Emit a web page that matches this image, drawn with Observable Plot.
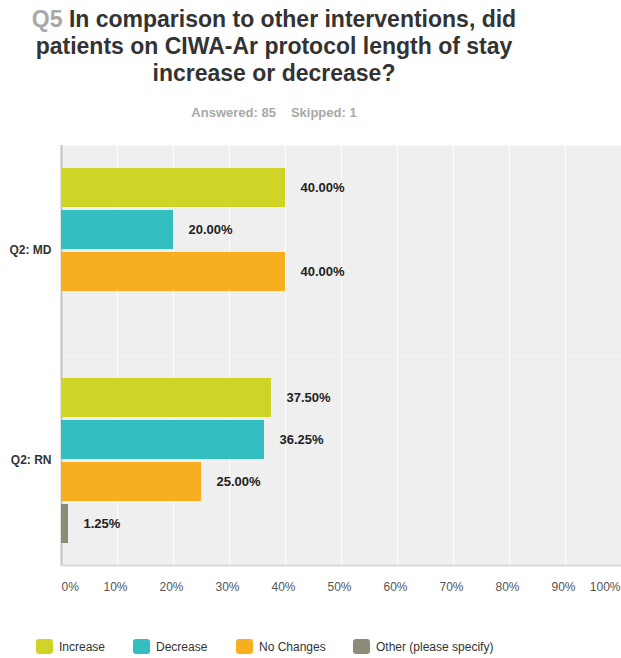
<!DOCTYPE html>
<html><head><meta charset="utf-8">
<script src="https://cdn.jsdelivr.net/npm/d3@7"></script>
<script src="https://cdn.jsdelivr.net/npm/@observablehq/plot@0.6"></script>
<style>
body{margin:0;background:#fff;font-family:"Liberation Sans",Arial,sans-serif;}
#wrap{position:relative;width:621px;height:658px;overflow:hidden;}
#title{position:absolute;left:0;top:6px;width:548px;text-align:center;font-weight:bold;font-size:23px;line-height:27px;color:#333;white-space:nowrap;}
#title .q{color:#a8a8a8;}
#sub{position:absolute;left:0;top:105px;width:548px;text-align:center;font-weight:bold;font-size:13px;color:#a8a8a8;}
#sub span+span{margin-left:15px;}
#chart{position:absolute;left:0;top:130px;}
#legend{position:absolute;left:36px;top:639px;font-size:12px;color:#333;white-space:nowrap;}
#legend .item{position:absolute;top:0;display:flex;align-items:center;}
#legend .sw{width:17px;height:15px;border-radius:3px;margin-right:6px;display:inline-block;}
</style></head>
<body><div id="wrap">
<div id="title"></div>
<div id="sub"></div>
<div id="chart"></div>
<div id="legend"></div>
</div>
<script>
const questionNo = "Q5";
const titleLines = ["In comparison to other interventions, did", "patients on CIWA-Ar protocol length of stay", "increase or decrease?"];
const answered = "Answered: 85";
const skipped = "Skipped: 1";
const groups = ["Q2: MD", "Q2: RN"];
const responses = ["Increase", "Decrease", "No Changes", "Other (please specify)"];
const colors = ["#cfd427", "#33bec0", "#f7ae1f", "#8b8b78"];
const mdValues = [40, 20, 40, 0];
const rnValues = [37.5, 36.25, 25, 1.25];
const xTicks = [0, 10, 20, 30, 40, 50, 60, 70, 80, 90, 100];
const legendOffsets = [0, 97, 200, 317];

document.getElementById("title").innerHTML =
  '<span class="q">' + questionNo + '</span> ' + titleLines.join("<br>");
document.getElementById("sub").innerHTML = '<span>' + answered + '</span><span>' + skipped + '</span>';

const data = [];
responses.forEach((r, i) => data.push({group: groups[0], response: r, value: mdValues[i]}));
responses.forEach((r, i) => data.push({group: groups[1], response: r, value: rnValues[i]}));
const shown = data.filter(d => d.value > 0);

const chart = Plot.plot({
  width: 621,
  height: 470,
  marginLeft: 61,
  marginRight: 0,
  marginTop: 15,
  marginBottom: 35,
  style: {fontFamily: '"Liberation Sans", Arial, sans-serif', background: "transparent"},
  x: {domain: [0, 100], axis: null},
  y: {domain: responses, axis: null, paddingInner: 0.08, paddingOuter: 0.54},
  fy: {domain: groups, padding: 0, axis: null, label: null},
  color: {domain: responses, range: colors},
  marks: [
    Plot.frame({fill: "#efefef", stroke: null}),
    Plot.gridX(xTicks, {stroke: "#ffffff", strokeOpacity: 1, strokeWidth: 1}),
    Plot.ruleX([0], {stroke: "#c4c4c4", strokeWidth: 2}),
    Plot.frame({anchor: "bottom", facetAnchor: "bottom", stroke: "#dadada", strokeWidth: 2}),
    Plot.axisFy({anchor: "left", tickSize: 0, tickPadding: 10, label: null, fontWeight: "bold", fontSize: 12, fill: "#333"}),
    Plot.barX(shown, {fy: "group", y: "response", x: "value", fill: "response"}),
    Plot.text(shown, {fy: "group", y: "response", x: "value", text: d => d.value.toFixed(2) + "%",
      textAnchor: "start", dx: 15, fontWeight: "bold", fontSize: 13, fill: "#222"}),
    Plot.text(xTicks.filter(t => t === 0), {facetAnchor: "bottom", x: d => d, text: d => d + "%", frameAnchor: "bottom", dy: 25, textAnchor: "start", fontSize: 12, fill: "#555"}),
    Plot.text(xTicks.filter(t => t > 0 && t < 100), {facetAnchor: "bottom", x: d => d, text: d => d + "%", frameAnchor: "bottom", dy: 25, dx: -2, textAnchor: "middle", fontSize: 12, fill: "#555"}),
    Plot.text(xTicks.filter(t => t === 100), {facetAnchor: "bottom", x: d => d, text: d => d + "%", frameAnchor: "bottom", dy: 25, dx: -1, textAnchor: "end", fontSize: 12, fill: "#555"})
  ]
});
document.getElementById("chart").appendChild(chart);

const legend = document.getElementById("legend");
responses.forEach((r, i) => {
  const it = document.createElement("div");
  it.className = "item";
  it.style.left = legendOffsets[i] + "px";
  it.innerHTML = '<span class="sw" style="background:' + colors[i] + '"></span><span>' + r + '</span>';
  legend.appendChild(it);
});
</script>
</body></html>
